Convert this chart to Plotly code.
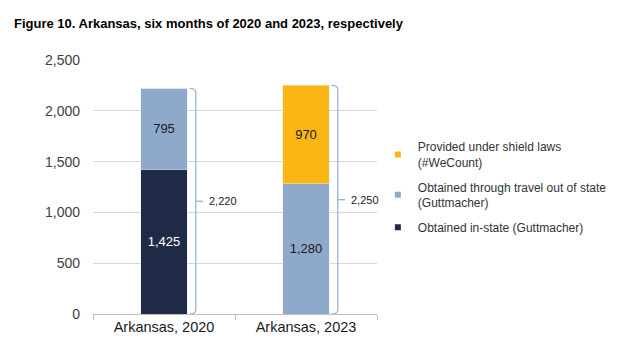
import plotly.graph_objects as go

categories = ["Arkansas, 2020", "Arkansas, 2023"]
in_state = [1425, 0]
travel = [795, 1280]
shield = [0, 970]
totals = [2220, 2250]
series_names = [
    "Obtained in-state (Guttmacher)",
    "Obtained through travel out of state<br>(Guttmacher)",
    "Provided under shield laws<br>(#WeCount)",
]
y_ticks = [0, 500, 1000, 1500, 2000, 2500]

FONT = "Liberation Sans, Arial, sans-serif"
C_NAVY = "#1F2B46"
C_BLUE = "#8FA9CD"
C_GOLD = "#FBB515"
C_BRACE = "#9DB3D6"
colors = [C_NAVY, C_BLUE, C_GOLD]
text_colors = ["white", "#1a1a1a", "#1a1a1a"]

def labels(vals):
    return [f"{v:,}" if v else "" for v in vals]

fig = go.Figure()
for vals, name, col, tcol in zip([in_state, travel, shield], series_names, colors, text_colors):
    fig.add_bar(x=categories, y=vals, name=name, marker_color=col,
                text=labels(vals), textposition="inside", insidetextanchor="middle",
                textfont=dict(color=tcol, size=13, family=FONT), width=0.33,
                showlegend=False)
# legend entries with small square swatches (top-to-bottom: shield, travel, in-state)
for i in [2, 1, 0]:
    fig.add_scatter(x=[None], y=[None], mode="markers", name=series_names[i],
                    marker=dict(symbol="square", size=6, color=colors[i]),
                    legendgroup=f"g{i}", showlegend=True)

shapes = []
annotations = []
for i, t in enumerate(totals):
    xv = i + 0.224
    xh = i + 0.18
    xt = i + 0.275
    path = (f"M {xh},{t} Q {xv},{t} {xv},{t - 40} "
            f"L {xv},{40} Q {xv},0 {xh},0")
    shapes.append(dict(type="path", xref="x", yref="y", path=path,
                       line=dict(color=C_BRACE, width=1.3)))
    shapes.append(dict(type="line", xref="x", yref="y", x0=xv, x1=xt,
                       y0=t / 2, y1=t / 2, line=dict(color=C_BRACE, width=1.3)))
    annotations.append(dict(x=i + 0.3, y=t / 2, xref="x", yref="y",
                            text=f"{t:,}", showarrow=False, xanchor="left",
                            font=dict(size=11, color="#1a1a1a", family=FONT)))

fig.update_layout(
    barmode="stack",
    width=616, height=348,
    margin=dict(l=85, r=236, t=52, b=42),
    paper_bgcolor="white", plot_bgcolor="white",
    font=dict(family=FONT, color="#404040"),
    title=dict(text="<b>Figure 10. Arkansas, six months of 2020 and 2023, respectively</b>",
               x=0.0097, xanchor="left", y=0.955, yanchor="middle", yref="container",
               font=dict(size=13, color="#000000", family=FONT)),
    legend=dict(x=1.003, y=0.715, xanchor="left", yanchor="top",
                traceorder="grouped", tracegroupgap=6,
                font=dict(size=12, color="#333333", family=FONT),
                bgcolor="rgba(0,0,0,0)"),
    shapes=shapes,
    annotations=annotations,
)
fig.update_yaxes(range=[0, 2500], tickvals=y_ticks, tickformat=",",
                 showgrid=True, gridcolor="#D9D9D9", gridwidth=1,
                 zeroline=False, showline=False, ticks="", ticklabelstandoff=12,
                 tickfont=dict(size=14, color="#404040", family=FONT))
fig.update_xaxes(type="category", showline=True, linecolor="#BFBFBF", linewidth=1,
                 ticks="outside", tickson="boundaries", ticklen=5, tickcolor="#BFBFBF",
                 tickfont=dict(size=14.5, color="#1a1a1a", family=FONT), range=[-0.5, 1.5])

fig.write_html("out.html")
